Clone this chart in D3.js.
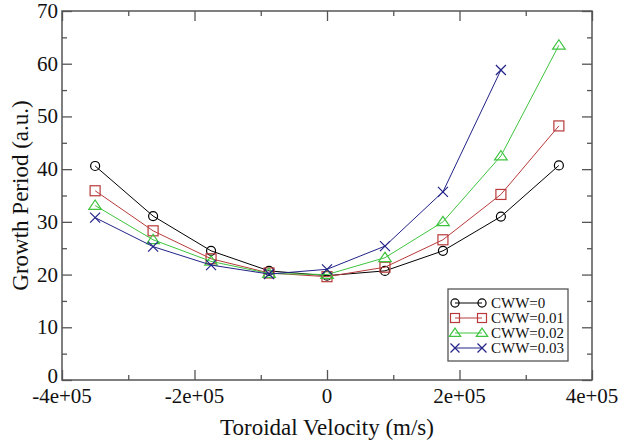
<!DOCTYPE html>
<html>
<head>
<meta charset="utf-8">
<script src="https://cdn.jsdelivr.net/npm/d3@7"></script>
<style>
  body { margin: 0; background: #fff; }
  svg { display: block; }
</style>
</head>
<body>
<svg id="chart" width="620" height="445"></svg>
<script>
// ---- data ----
const velocity = [-3.5e5, -2.625e5, -1.75e5, -0.875e5, 0, 0.875e5, 1.75e5, 2.625e5, 3.5e5];
const cww0   = [40.6, 31.1, 24.5, 20.7, 19.8, 20.7, 24.5, 31.0, 40.7];
const cww001 = [35.9, 28.3, 23.0, 20.3, 19.6, 21.4, 26.6, 35.2, 48.2];
const cww002 = [33.1, 26.6, 22.5, 20.2, 20.0, 23.2, 30.0, 42.5, 63.5];
const cww003 = [30.8, 25.3, 21.8, 20.1, 21.0, 25.4, 35.7, 58.8];
const seriesNames = ["CWW=0", "CWW=0.01", "CWW=0.02", "CWW=0.03"];
const xMajorTicks = [-4e5, -2e5, 0, 2e5, 4e5];
const xTickLabels = ["-4e+05", "-2e+05", "0", "2e+05", "4e+05"];
const xMinorTicks = [-3e5, -1e5, 1e5, 3e5];
const yMajorTicks = [0, 10, 20, 30, 40, 50, 60, 70];
const yMinorTicks = [5, 15, 25, 35, 45, 55, 65];

const colors = ["#000000", "#b83a3a", "#3fc43f", "#222288"];
const markers = ["circle", "square", "triangle", "cross"];
const allSeries = [cww0, cww001, cww002, cww003];

const FONT = "'Liberation Serif', 'Times New Roman', 'DejaVu Serif', serif";
const svg = d3.select("#chart").attr("font-family", FONT);
const L = 62, R = 592, T = 11, B = 380;
const x = d3.scaleLinear().domain([-4e5, 4e5]).range([L, R]);
const y = d3.scaleLinear().domain([0, 70]).range([B, T]);
const axisColor = "#555";

// axes with inward ticks
function styleAxis(g) {
  g.select(".domain").remove();
  g.selectAll("line").attr("stroke", axisColor).attr("stroke-width", 1.3);
  g.selectAll("text").remove();
}
svg.append("g").attr("transform", `translate(0,${B})`)
  .call(d3.axisBottom(x).tickValues(xMajorTicks).tickSize(-10)).call(styleAxis);
svg.append("g").attr("transform", `translate(0,${B})`)
  .call(d3.axisBottom(x).tickValues(xMinorTicks).tickSize(-5)).call(styleAxis);
svg.append("g").attr("transform", `translate(0,${T})`)
  .call(d3.axisTop(x).tickValues(xMajorTicks).tickSize(-10)).call(styleAxis);
svg.append("g").attr("transform", `translate(0,${T})`)
  .call(d3.axisTop(x).tickValues(xMinorTicks).tickSize(-5)).call(styleAxis);
svg.append("g").attr("transform", `translate(${L},0)`)
  .call(d3.axisLeft(y).tickValues(yMajorTicks).tickSize(-10)).call(styleAxis);
svg.append("g").attr("transform", `translate(${L},0)`)
  .call(d3.axisLeft(y).tickValues(yMinorTicks).tickSize(-5)).call(styleAxis);
svg.append("g").attr("transform", `translate(${R},0)`)
  .call(d3.axisRight(y).tickValues(yMajorTicks).tickSize(-10)).call(styleAxis);
svg.append("g").attr("transform", `translate(${R},0)`)
  .call(d3.axisRight(y).tickValues(yMinorTicks).tickSize(-5)).call(styleAxis);

svg.append("rect").attr("x", L).attr("y", T).attr("width", R - L).attr("height", B - T)
  .attr("fill", "none").attr("stroke", axisColor).attr("stroke-width", 1.5);

// tick labels
svg.append("g").selectAll("text").data(xMajorTicks).join("text")
  .attr("font-family", FONT).attr("fill", "#111")
  .attr("x", d => x(d)).attr("y", 403).attr("text-anchor", "middle")
  .attr("font-size", 21).text((d, i) => xTickLabels[i]);
svg.append("g").selectAll("text").data(yMajorTicks).join("text")
  .attr("font-family", FONT).attr("fill", "#111")
  .attr("x", 58).attr("y", d => y(d) + (d === 0 ? 3 : 7)).attr("text-anchor", "end")
  .attr("font-size", 21).text(d => d);

// axis titles
svg.append("text").attr("font-family", FONT).attr("fill", "#111")
  .attr("x", x(0)).attr("y", 435).attr("text-anchor", "middle")
  .attr("font-size", 23).text("Toroidal Velocity (m/s)");
svg.append("text").attr("font-family", FONT).attr("fill", "#111")
  .attr("transform", `translate(28,${(T + B) / 2}) rotate(-90)`)
  .attr("text-anchor", "middle").attr("font-size", 23).text("Growth Period (a.u.)");

// markers
function drawMarker(g, type, cx, cy, color, s) {
  if (type === "circle") {
    g.append("circle").attr("cx", cx).attr("cy", cy).attr("r", s * 0.9)
      .attr("fill", "none").attr("stroke", color).attr("stroke-width", 1.2);
  } else if (type === "square") {
    g.append("rect").attr("x", cx - s).attr("y", cy - s).attr("width", 2 * s).attr("height", 2 * s)
      .attr("fill", "none").attr("stroke", color).attr("stroke-width", 1.2);
  } else if (type === "triangle") {
    const h = s * 1.1;
    g.append("path").attr("d", `M${cx},${cy - h}L${cx + h * 1.15},${cy + h * 0.7}L${cx - h * 1.15},${cy + h * 0.7}Z`)
      .attr("fill", "none").attr("stroke", color).attr("stroke-width", 1.2);
  } else {
    g.append("path").attr("d", `M${cx - s},${cy - s}L${cx + s},${cy + s}M${cx - s},${cy + s}L${cx + s},${cy - s}`)
      .attr("fill", "none").attr("stroke", color).attr("stroke-width", 1.2);
  }
}

const line = d3.line().x(d => x(d[0])).y(d => y(d[1]));
allSeries.forEach((vals, i) => {
  const pts = vals.map((v, j) => [velocity[j], v]);
  const g = svg.append("g");
  g.append("path").attr("d", line(pts)).attr("fill", "none")
    .attr("stroke", colors[i]).attr("stroke-width", 1);
  pts.forEach(p => drawMarker(g, markers[i], x(p[0]), y(p[1]), colors[i], 5));
});

// legend
const lg = svg.append("g");
lg.append("rect").attr("x", 448).attr("y", 289).attr("width", 120).attr("height", 72)
  .attr("fill", "#fff").attr("stroke", axisColor).attr("stroke-width", 1.3);
seriesNames.forEach((name, i) => {
  const yy = 303 + i * 15;
  lg.append("line").attr("x1", 455).attr("x2", 482).attr("y1", yy).attr("y2", yy)
    .attr("stroke", colors[i]).attr("stroke-width", 1);
  drawMarker(lg, markers[i], 455, yy, colors[i], 4.5);
  drawMarker(lg, markers[i], 482, yy, colors[i], 4.5);
  lg.append("text").attr("font-family", FONT).attr("fill", "#111")
    .attr("x", 491).attr("y", yy + 5).attr("font-size", 15).text(name);
});
</script>
</body>
</html>
